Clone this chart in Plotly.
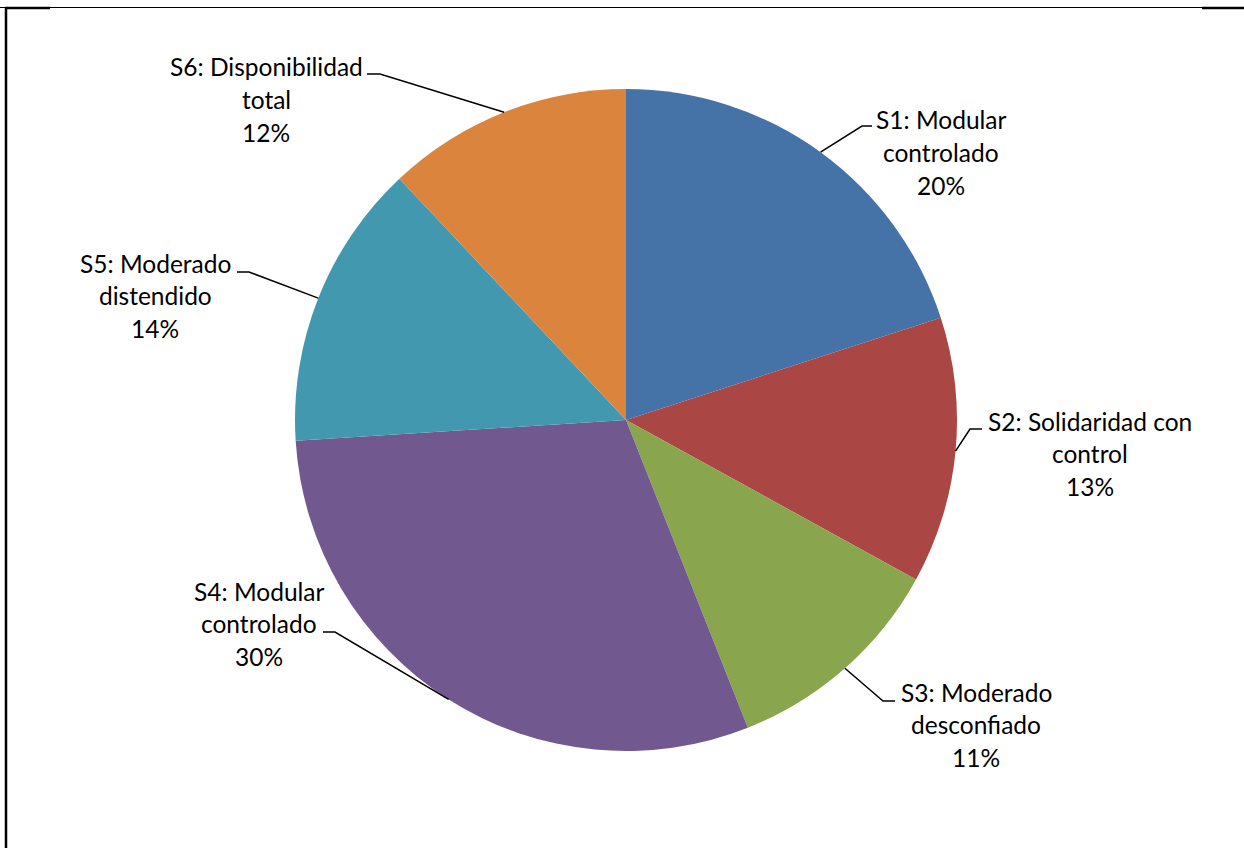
import math
import plotly.graph_objects as go

W, H = 1244, 848

# Segment shares (percent), clockwise from 12 o'clock
categories = ["S1", "S2", "S3", "S4", "S5", "S6"]
name_lines = [
    ["S1: Modular", "controlado"],
    ["S2: Solidaridad con", "control"],
    ["S3: Moderado", "desconfiado"],
    ["S4: Modular", "controlado"],
    ["S5: Moderado", "distendido"],
    ["S6: Disponibilidad", "total"],
]
values = [20, 13, 11, 30, 14, 12]
colors = ["#4572A7", "#AA4643", "#89A54E", "#71588F", "#4198AF", "#DB843D"]

# Pie geometry in pixels
CX, CY, R = 626, 420, 331

# Label block placement: (centre x, first-line centre y), line pitch
label_pos = [
    (941, 120),
    (1090, 421),
    (976, 692),
    (259, 591),
    (155, 263),
    (266, 67),
]
PITCH = 32.8

# Leader elbows: (text-side end x, y), elbow x
leader_elbow = [
    (872, 126, 862),
    (982, 429, 970),
    (895, 701, 883),
    (323, 632, 335),
    (237, 272, 249),
    (367, 74, 380),
]


def px(x):
    return x / W


def py(y):
    return 1 - y / H


fig = go.Figure(
    go.Pie(
        labels=categories,
        values=values,
        sort=False,
        direction="clockwise",
        rotation=0,
        textinfo="none",
        hoverinfo="label+percent",
        marker=dict(colors=colors, line=dict(width=0)),
        domain=dict(x=[px(CX - R), px(CX + R)], y=[py(CY + R), py(CY - R)]),
        showlegend=False,
    )
)

annotations = []
shapes = []
total = sum(values)
cum = 0
font = dict(family="Lato, Carlito, Calibri, sans-serif", size=24.5, color="#000000")
for i, v in enumerate(values):
    mid = (cum + v / 2) / total * 2 * math.pi
    cum += v
    ax = CX + R * math.sin(mid)
    ay = CY - R * math.cos(mid)

    lines = name_lines[i] + [f"{v}%"]
    lx, ly = label_pos[i]
    for k, t in enumerate(lines):
        annotations.append(
            dict(
                x=px(lx), y=py(ly + k * PITCH), xref="paper", yref="paper",
                text=t, showarrow=False, xanchor="center", yanchor="middle",
                font=font,
            )
        )

    ex, ey, kx = leader_elbow[i]
    shapes.append(
        dict(
            type="path", xref="paper", yref="paper",
            path=f"M {px(ex)} {py(ey)} L {px(kx)} {py(ey)} L {px(ax)} {py(ay)}",
            line=dict(color="#000000", width=1.5),
        )
    )

# Chart frame edges
frame = [
    ((0, 7.5), (W, 7.5), 1),
    ((5, 8), (50, 8), 2.5),
    ((1202, 8), (W, 8), 2.5),
    ((6, 7), (6, H), 2.5),
]
for (x0, y0), (x1, y1), w in frame:
    shapes.append(
        dict(type="line", xref="paper", yref="paper",
             x0=px(x0), y0=py(y0), x1=px(x1), y1=py(y1),
             line=dict(color="#000000", width=w))
    )

fig.update_layout(
    width=W, height=H,
    margin=dict(l=0, r=0, t=0, b=0),
    paper_bgcolor="#FFFFFF",
    plot_bgcolor="#FFFFFF",
    annotations=annotations,
    shapes=shapes,
)

fig.write_html("out.html")
